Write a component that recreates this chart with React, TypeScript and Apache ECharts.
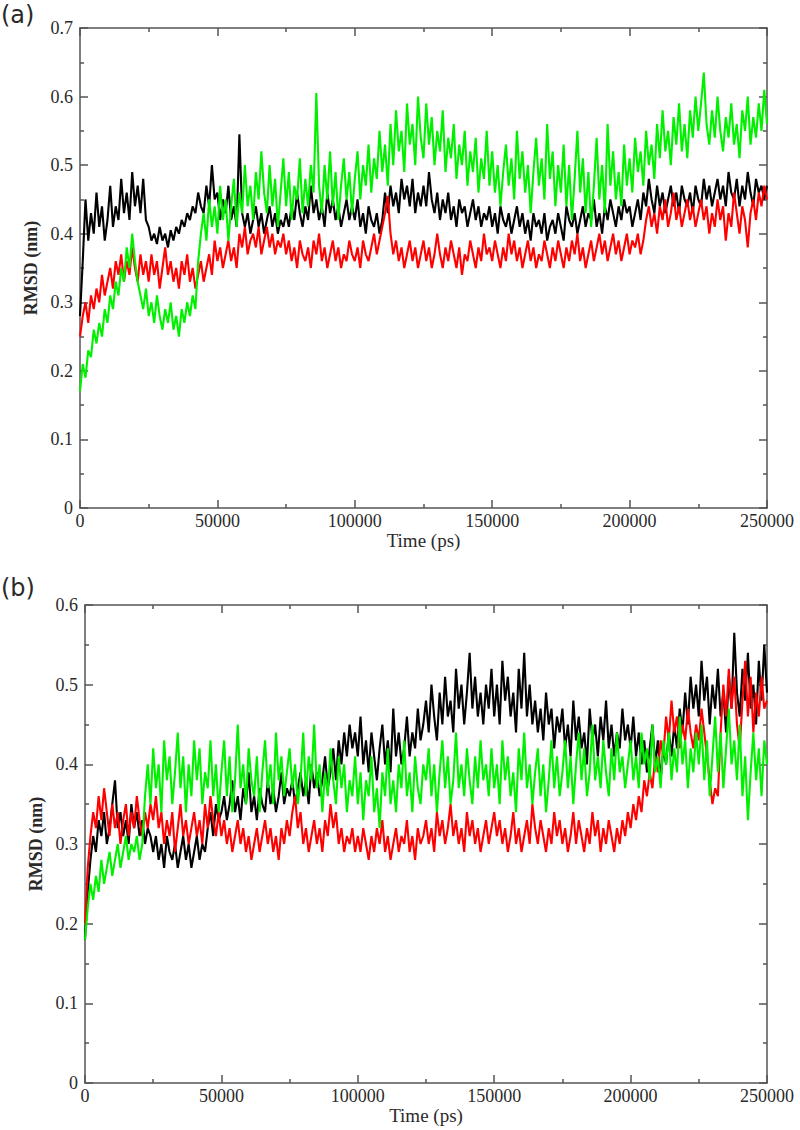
import React, { useEffect, useRef } from "react";
import * as echarts from "echarts";

// Sampling step of the trajectories (ps)
const STEP_PS = 1000;

// Panel (a) RMSD (nm), one value per 1000 ps
const aBlack = [
  0.28, 0.36, 0.45, 0.39, 0.43, 0.40, 0.46, 0.41, 0.44, 0.39, 0.42, 0.47, 0.41, 0.44, 0.42, 0.48, 0.43, 0.46, 0.42, 0.49, 0.44, 0.47, 0.43, 0.48, 0.42,
  0.41, 0.39, 0.40, 0.385, 0.41, 0.39, 0.40, 0.38, 0.405, 0.39, 0.41, 0.40, 0.42, 0.41, 0.43, 0.42, 0.44, 0.43, 0.46, 0.44, 0.43, 0.47, 0.44, 0.50, 0.45,
  0.46, 0.42, 0.45, 0.43, 0.47, 0.42, 0.44, 0.41, 0.545, 0.43, 0.41, 0.43, 0.40, 0.42, 0.44, 0.41, 0.43, 0.40, 0.42, 0.44, 0.41, 0.43, 0.40, 0.42, 0.41,
  0.43, 0.41, 0.44, 0.42, 0.46, 0.43, 0.41, 0.44, 0.42, 0.47, 0.43, 0.45, 0.42, 0.44, 0.41, 0.46, 0.43, 0.45, 0.42, 0.44, 0.41, 0.43, 0.45, 0.42, 0.44,
  0.42, 0.45, 0.41, 0.43, 0.40, 0.44, 0.42, 0.41, 0.43, 0.40, 0.42, 0.46, 0.43, 0.47, 0.44, 0.46, 0.43, 0.48, 0.45, 0.47, 0.44, 0.48, 0.43, 0.46, 0.44,
  0.47, 0.44, 0.49, 0.45, 0.43, 0.46, 0.42, 0.45, 0.43, 0.46, 0.42, 0.44, 0.41, 0.45, 0.43, 0.44, 0.41, 0.43, 0.45, 0.42, 0.44, 0.41, 0.43, 0.42, 0.44,
  0.41, 0.43, 0.40, 0.44, 0.42, 0.41, 0.43, 0.40, 0.42, 0.44, 0.41, 0.43, 0.40, 0.42, 0.39, 0.43, 0.41, 0.42, 0.40, 0.43, 0.39, 0.41, 0.42, 0.40, 0.43,
  0.41, 0.39, 0.44, 0.42, 0.41, 0.43, 0.40, 0.42, 0.44, 0.41, 0.43, 0.42, 0.45, 0.41, 0.43, 0.40, 0.44, 0.42, 0.45, 0.43, 0.41, 0.44, 0.42, 0.45, 0.43,
  0.44, 0.41, 0.43, 0.45, 0.42, 0.46, 0.44, 0.48, 0.45, 0.43, 0.47, 0.44, 0.46, 0.43, 0.45, 0.47, 0.44, 0.46, 0.43, 0.47, 0.45, 0.44, 0.46, 0.43, 0.47,
  0.45, 0.44, 0.48, 0.45, 0.47, 0.44, 0.46, 0.48, 0.45, 0.47, 0.44, 0.49, 0.46, 0.45, 0.48, 0.44, 0.47, 0.45, 0.49, 0.46, 0.44, 0.48, 0.46, 0.47, 0.45,
  0.47,
];
const aRed = [
  0.25, 0.28, 0.30, 0.27, 0.31, 0.29, 0.32, 0.30, 0.34, 0.31, 0.33, 0.35, 0.32, 0.36, 0.34, 0.37, 0.33, 0.36, 0.34, 0.38, 0.35, 0.33, 0.37, 0.34, 0.36,
  0.33, 0.37, 0.34, 0.36, 0.32, 0.35, 0.38, 0.34, 0.36, 0.33, 0.35, 0.32, 0.36, 0.34, 0.37, 0.33, 0.35, 0.32, 0.34, 0.36, 0.33, 0.35, 0.37, 0.34, 0.39,
  0.36, 0.38, 0.35, 0.37, 0.39, 0.36, 0.38, 0.35, 0.40, 0.38, 0.41, 0.37, 0.39, 0.40, 0.38, 0.41, 0.37, 0.39, 0.41, 0.38, 0.40, 0.37, 0.39, 0.38, 0.40,
  0.37, 0.39, 0.36, 0.38, 0.35, 0.39, 0.37, 0.36, 0.38, 0.35, 0.39, 0.37, 0.40, 0.36, 0.38, 0.35, 0.37, 0.39, 0.36, 0.38, 0.35, 0.37, 0.36, 0.39, 0.37,
  0.36, 0.38, 0.35, 0.39, 0.37, 0.36, 0.38, 0.40, 0.37, 0.39, 0.41, 0.43, 0.455, 0.40, 0.37, 0.39, 0.36, 0.38, 0.35, 0.37, 0.39, 0.36, 0.38, 0.35, 0.37,
  0.39, 0.36, 0.38, 0.35, 0.37, 0.40, 0.37, 0.35, 0.38, 0.36, 0.39, 0.37, 0.35, 0.38, 0.34, 0.37, 0.36, 0.39, 0.37, 0.35, 0.38, 0.36, 0.40, 0.37, 0.38,
  0.36, 0.39, 0.37, 0.35, 0.38, 0.36, 0.40, 0.37, 0.39, 0.36, 0.38, 0.35, 0.37, 0.39, 0.36, 0.38, 0.35, 0.37, 0.36, 0.39, 0.37, 0.35, 0.38, 0.36, 0.39,
  0.37, 0.35, 0.38, 0.36, 0.39, 0.37, 0.40, 0.36, 0.38, 0.35, 0.37, 0.39, 0.36, 0.38, 0.40, 0.37, 0.39, 0.36, 0.38, 0.40, 0.37, 0.39, 0.36, 0.38, 0.40,
  0.37, 0.39, 0.38, 0.40, 0.37, 0.39, 0.42, 0.44, 0.41, 0.43, 0.40, 0.44, 0.42, 0.45, 0.41, 0.43, 0.46, 0.42, 0.44, 0.41, 0.43, 0.45, 0.42, 0.44, 0.41,
  0.43, 0.45, 0.42, 0.44, 0.40, 0.43, 0.41, 0.45, 0.42, 0.44, 0.39, 0.43, 0.41, 0.46, 0.43, 0.40, 0.44, 0.42, 0.38, 0.43, 0.45, 0.42, 0.46, 0.44, 0.47,
  0.45,
];
const aGreen = [
  0.17, 0.21, 0.19, 0.23, 0.22, 0.26, 0.24, 0.27, 0.25, 0.29, 0.27, 0.31, 0.29, 0.33, 0.31, 0.35, 0.33, 0.38, 0.35, 0.40, 0.36, 0.33, 0.31, 0.29, 0.32,
  0.28, 0.30, 0.27, 0.31, 0.28, 0.26, 0.29, 0.27, 0.30, 0.26, 0.28, 0.25, 0.29, 0.27, 0.30, 0.28, 0.31, 0.29, 0.36, 0.40, 0.43, 0.39, 0.45, 0.41, 0.44,
  0.40, 0.47, 0.42, 0.45, 0.39, 0.44, 0.48, 0.41, 0.46, 0.43, 0.50, 0.44, 0.47, 0.42, 0.49, 0.45, 0.52, 0.46, 0.43, 0.50, 0.44, 0.48, 0.41, 0.46, 0.51,
  0.44, 0.49, 0.42, 0.47, 0.45, 0.51, 0.43, 0.48, 0.44, 0.50, 0.46, 0.605, 0.47, 0.43, 0.50, 0.45, 0.52, 0.44, 0.49, 0.42, 0.47, 0.51, 0.45, 0.49, 0.43,
  0.48, 0.52, 0.45, 0.50, 0.47, 0.53, 0.46, 0.51, 0.48, 0.55, 0.49, 0.53, 0.47, 0.56, 0.50, 0.58, 0.52, 0.55, 0.49, 0.59, 0.53, 0.56, 0.50, 0.60, 0.54,
  0.51, 0.59, 0.53, 0.57, 0.50, 0.55, 0.52, 0.58, 0.49, 0.54, 0.51, 0.56, 0.48, 0.53, 0.50, 0.55, 0.47, 0.52, 0.49, 0.54, 0.46, 0.51, 0.48, 0.55, 0.47,
  0.52, 0.46, 0.50, 0.44, 0.49, 0.53, 0.47, 0.51, 0.45, 0.55, 0.48, 0.52, 0.46, 0.50, 0.43, 0.49, 0.54, 0.47, 0.51, 0.45, 0.56, 0.48, 0.52, 0.44, 0.50,
  0.46, 0.53, 0.44, 0.50, 0.42, 0.48, 0.55, 0.46, 0.51, 0.43, 0.49, 0.41, 0.47, 0.54, 0.45, 0.50, 0.43, 0.56, 0.47, 0.52, 0.45, 0.49, 0.44, 0.53, 0.47,
  0.51, 0.46, 0.54, 0.49, 0.52, 0.47, 0.55, 0.50, 0.53, 0.48, 0.56, 0.51, 0.58, 0.52, 0.55, 0.50, 0.57, 0.53, 0.59, 0.52, 0.56, 0.51, 0.58, 0.54, 0.60,
  0.55, 0.59, 0.635, 0.56, 0.53, 0.58, 0.54, 0.60, 0.55, 0.52, 0.57, 0.54, 0.59, 0.53, 0.56, 0.51, 0.58, 0.55, 0.60, 0.53, 0.57, 0.54, 0.59, 0.55, 0.61,
  0.56,
];

// Panel (b) RMSD (nm), one value per 1000 ps
const bBlack = [
  0.18, 0.24, 0.28, 0.31, 0.29, 0.33, 0.31, 0.34, 0.30, 0.32, 0.35, 0.38, 0.32, 0.34, 0.31, 0.33, 0.30, 0.35, 0.32, 0.34, 0.31, 0.33, 0.30, 0.32, 0.31,
  0.29, 0.31, 0.28, 0.30, 0.27, 0.31, 0.29, 0.28, 0.30, 0.27, 0.29, 0.31, 0.28, 0.30, 0.27, 0.29, 0.31, 0.28, 0.30, 0.29, 0.32, 0.34, 0.31, 0.35, 0.33,
  0.34, 0.36, 0.33, 0.35, 0.38, 0.34, 0.36, 0.33, 0.37, 0.35, 0.39, 0.34, 0.36, 0.33, 0.37, 0.35, 0.34, 0.38, 0.35, 0.37, 0.34, 0.36, 0.39, 0.35, 0.37,
  0.36, 0.38, 0.35, 0.37, 0.39, 0.36, 0.38, 0.35, 0.40, 0.37, 0.39, 0.36, 0.38, 0.41, 0.37, 0.39, 0.42, 0.38, 0.43, 0.40, 0.44, 0.41, 0.45, 0.42, 0.44,
  0.41, 0.46, 0.40, 0.43, 0.39, 0.44, 0.41, 0.38, 0.42, 0.45, 0.40, 0.43, 0.39, 0.47, 0.41, 0.44, 0.40, 0.42, 0.46, 0.41, 0.44, 0.42, 0.47, 0.43, 0.45,
  0.48, 0.44, 0.50, 0.46, 0.43, 0.49, 0.45, 0.51, 0.46, 0.48, 0.44, 0.52, 0.47, 0.50, 0.45, 0.49, 0.54, 0.47, 0.51, 0.46, 0.49, 0.45, 0.50, 0.47, 0.52,
  0.46, 0.50, 0.45, 0.53, 0.48, 0.51, 0.46, 0.49, 0.44, 0.52, 0.47, 0.54, 0.46, 0.50, 0.45, 0.48, 0.44, 0.47, 0.43, 0.49, 0.45, 0.47, 0.42, 0.46, 0.44,
  0.47, 0.42, 0.45, 0.41, 0.48, 0.43, 0.46, 0.42, 0.44, 0.40, 0.47, 0.43, 0.45, 0.41, 0.46, 0.43, 0.48, 0.42, 0.45, 0.41, 0.44, 0.42, 0.47, 0.43, 0.45,
  0.42, 0.46, 0.41, 0.44, 0.40, 0.43, 0.39, 0.42, 0.45, 0.40, 0.43, 0.38, 0.42, 0.40, 0.44, 0.41, 0.45, 0.42, 0.47, 0.44, 0.49, 0.45, 0.51, 0.47, 0.50,
  0.46, 0.53, 0.48, 0.51, 0.45, 0.50, 0.47, 0.52, 0.46, 0.49, 0.44, 0.51, 0.47, 0.565, 0.49, 0.46, 0.52, 0.48, 0.54, 0.47, 0.50, 0.45, 0.53, 0.48, 0.55,
  0.49,
];
const bRed = [
  0.20, 0.27, 0.31, 0.34, 0.32, 0.36, 0.33, 0.37, 0.34, 0.31, 0.35, 0.32, 0.34, 0.30, 0.33, 0.35, 0.31, 0.34, 0.32, 0.36, 0.33, 0.31, 0.34, 0.32, 0.35,
  0.33, 0.36, 0.32, 0.34, 0.30, 0.33, 0.31, 0.34, 0.29, 0.32, 0.35, 0.31, 0.33, 0.30, 0.32, 0.34, 0.31, 0.33, 0.30, 0.35, 0.32, 0.36, 0.33, 0.31, 0.34,
  0.31, 0.33, 0.30, 0.32, 0.29, 0.31, 0.33, 0.30, 0.32, 0.29, 0.31, 0.28, 0.30, 0.32, 0.29, 0.31, 0.33, 0.30, 0.32, 0.29, 0.31, 0.28, 0.32, 0.30, 0.33,
  0.31, 0.34, 0.36, 0.32, 0.34, 0.30, 0.32, 0.29, 0.31, 0.33, 0.30, 0.32, 0.29, 0.33, 0.31, 0.35, 0.32, 0.34, 0.30, 0.32, 0.29, 0.31, 0.30, 0.32, 0.29,
  0.31, 0.29, 0.32, 0.30, 0.28, 0.31, 0.29, 0.32, 0.30, 0.33, 0.29, 0.31, 0.28, 0.30, 0.32, 0.29, 0.31, 0.30, 0.33, 0.29, 0.31, 0.28, 0.32, 0.30, 0.31,
  0.33, 0.30, 0.32, 0.29, 0.34, 0.31, 0.33, 0.30, 0.32, 0.35, 0.31, 0.33, 0.30, 0.32, 0.29, 0.34, 0.31, 0.33, 0.30, 0.32, 0.29, 0.31, 0.33, 0.30, 0.32,
  0.34, 0.31, 0.33, 0.30, 0.32, 0.29, 0.31, 0.34, 0.30, 0.32, 0.29, 0.31, 0.33, 0.30, 0.35, 0.32, 0.30, 0.33, 0.31, 0.29, 0.32, 0.30, 0.34, 0.31, 0.33,
  0.30, 0.32, 0.29, 0.31, 0.34, 0.30, 0.33, 0.31, 0.29, 0.32, 0.30, 0.34, 0.31, 0.33, 0.29, 0.32, 0.30, 0.33, 0.31, 0.29, 0.32, 0.30, 0.33, 0.31, 0.34,
  0.32, 0.35, 0.33, 0.36, 0.34, 0.38, 0.36, 0.39, 0.37, 0.41, 0.39, 0.43, 0.41, 0.46, 0.43, 0.48, 0.44, 0.46, 0.42, 0.45, 0.43, 0.47, 0.44, 0.42, 0.45,
  0.43, 0.47, 0.44, 0.41, 0.38, 0.35, 0.37, 0.36, 0.44, 0.50, 0.46, 0.52, 0.47, 0.51, 0.45, 0.42, 0.48, 0.53, 0.46, 0.51, 0.44, 0.49, 0.46, 0.51, 0.47,
  0.48,
];
const bGreen = [
  0.18, 0.22, 0.25, 0.23, 0.26, 0.24, 0.28, 0.25, 0.27, 0.29, 0.26, 0.28, 0.30, 0.27, 0.29, 0.31, 0.28, 0.30, 0.29, 0.31, 0.28, 0.30, 0.36, 0.40, 0.35,
  0.42, 0.37, 0.40, 0.34, 0.43, 0.38, 0.41, 0.35, 0.39, 0.44, 0.37, 0.41, 0.34, 0.40, 0.36, 0.43, 0.38, 0.42, 0.35, 0.39, 0.37, 0.43, 0.36, 0.40, 0.34,
  0.39, 0.43, 0.36, 0.41, 0.34, 0.38, 0.45, 0.37, 0.40, 0.35, 0.42, 0.38, 0.36, 0.41, 0.34, 0.39, 0.43, 0.37, 0.40, 0.35, 0.44, 0.38, 0.41, 0.36, 0.39,
  0.42, 0.37, 0.40, 0.35, 0.38, 0.44, 0.36, 0.41, 0.38, 0.45, 0.37, 0.40, 0.34, 0.39, 0.36, 0.42, 0.38, 0.35, 0.41, 0.37, 0.40, 0.34, 0.38, 0.36, 0.41,
  0.35, 0.39, 0.33, 0.38, 0.36, 0.41, 0.34, 0.37, 0.32, 0.39, 0.36, 0.42, 0.35, 0.38, 0.34, 0.40, 0.37, 0.43, 0.36, 0.39, 0.34, 0.41, 0.37, 0.35, 0.40,
  0.38, 0.42, 0.36, 0.40, 0.34, 0.39, 0.43, 0.37, 0.41, 0.35, 0.38, 0.44, 0.37, 0.40, 0.36, 0.42, 0.38, 0.35, 0.41, 0.37, 0.43, 0.38, 0.40, 0.36, 0.42,
  0.37, 0.40, 0.35, 0.43, 0.38, 0.41, 0.36, 0.39, 0.34, 0.42, 0.38, 0.44, 0.37, 0.40, 0.35, 0.39, 0.42, 0.36, 0.40, 0.34, 0.38, 0.43, 0.37, 0.41, 0.36,
  0.39, 0.43, 0.37, 0.41, 0.35, 0.40, 0.44, 0.38, 0.42, 0.36, 0.39, 0.45, 0.38, 0.41, 0.37, 0.43, 0.39, 0.36, 0.42, 0.38, 0.44, 0.39, 0.41, 0.37, 0.40,
  0.43, 0.38, 0.41, 0.37, 0.44, 0.40, 0.42, 0.38, 0.45, 0.39, 0.41, 0.37, 0.43, 0.40, 0.44, 0.38, 0.42, 0.39, 0.46, 0.40, 0.43, 0.37, 0.42, 0.39, 0.44,
  0.40, 0.45, 0.38, 0.43, 0.36, 0.41, 0.46, 0.39, 0.44, 0.37, 0.42, 0.47, 0.40, 0.43, 0.38, 0.45, 0.36, 0.41, 0.33, 0.39, 0.44, 0.38, 0.42, 0.36, 0.43,
  0.40,
];

const xTicks = [0, 50000, 100000, 150000, 200000, 250000];
const yMaxA = 0.7;
const yMaxB = 0.6;
const panelLabels = ["(a)", "(b)"];
const xTitle = "Time (ps)";
const yTitle = "RMSD (nm)";
const colors = ["#000000", "#ff0000", "#00f000"];

const toPairs = (arr: number[]) => arr.map((v, i) => [i * STEP_PS, v]);

const AXIS_COLOR = "#555555";
const TEXT_COLOR = "#2a2a2a";
const LABEL_FONT = "Liberation Serif";

function xAxisDef(grid: number, pos: "bottom" | "top") {
  const bottom = pos === "bottom";
  return {
    type: "value",
    gridIndex: grid,
    position: pos,
    min: xTicks[0],
    max: xTicks[xTicks.length - 1],
    interval: xTicks[1] - xTicks[0],
    axisLine: { show: true, onZero: false, lineStyle: { color: AXIS_COLOR, width: 1.5 } },
    axisTick: { show: true, inside: true, length: 8, lineStyle: { color: AXIS_COLOR, width: 1.5 } },
    minorTick: { show: true, splitNumber: 2, length: 4, lineStyle: { color: AXIS_COLOR, width: 1.5 } },
    splitLine: { show: false },
    axisLabel: {
      show: bottom,
      fontFamily: LABEL_FONT,
      fontSize: 18,
      color: TEXT_COLOR,
      margin: 4,
      formatter: (v: number) => String(v),
    },
    name: bottom ? xTitle : "",
    nameLocation: "middle",
    nameGap: 23,
    nameTextStyle: { fontFamily: LABEL_FONT, fontSize: 19, color: TEXT_COLOR },
  };
}

function yAxisDef(grid: number, pos: "left" | "right", max: number) {
  const left = pos === "left";
  return {
    type: "value",
    gridIndex: grid,
    position: pos,
    min: 0,
    max,
    interval: 0.1,
    axisLine: { show: true, onZero: false, lineStyle: { color: AXIS_COLOR, width: 1.5 } },
    axisTick: { show: true, inside: true, length: 8, lineStyle: { color: AXIS_COLOR, width: 1.5 } },
    minorTick: { show: true, splitNumber: 2, length: 4, lineStyle: { color: AXIS_COLOR, width: 1.5 } },
    splitLine: { show: false },
    axisLabel: {
      show: left,
      fontFamily: LABEL_FONT,
      fontSize: 18,
      color: TEXT_COLOR,
      margin: 7,
      formatter: (v: number) => (v === 0 ? "0" : v.toFixed(1)),
    },
    name: left ? yTitle : "",
    nameLocation: "middle",
    nameGap: 38,
    nameRotate: 90,
    nameTextStyle: { fontFamily: LABEL_FONT, fontSize: 18, fontWeight: "bold", color: TEXT_COLOR },
  };
}

export default function App() {
  const ref = useRef<HTMLDivElement>(null);
  useEffect(() => {
    if (!ref.current) return;
    const chart = echarts.init(ref.current, null, { renderer: "svg" });
    const sets = [
      [aBlack, aRed, aGreen],
      [bBlack, bRed, bGreen],
    ];
    const series: any[] = [];
    sets.forEach((grp, g) => {
      grp.forEach((arr, k) => {
        series.push({
          type: "line",
          xAxisIndex: g * 2,
          yAxisIndex: g * 2,
          data: toPairs(arr),
          showSymbol: false,
          symbol: "none",
          lineStyle: { color: colors[k], width: 2.1 },
          itemStyle: { color: colors[k] },
          z: 2 + k,
        });
      });
    });
    chart.setOption({
      animation: false,
      backgroundColor: "#ffffff",
      grid: [
        { left: 80, top: 28, width: 687, height: 480 },
        { left: 85, top: 605, width: 682, height: 478 },
      ],
      xAxis: [xAxisDef(0, "bottom"), xAxisDef(0, "top"), xAxisDef(1, "bottom"), xAxisDef(1, "top")],
      yAxis: [
        yAxisDef(0, "left", yMaxA),
        yAxisDef(0, "right", yMaxA),
        yAxisDef(1, "left", yMaxB),
        yAxisDef(1, "right", yMaxB),
      ],
      series,
      graphic: [
        {
          type: "text",
          left: 1,
          top: 3,
          style: { text: panelLabels[0], font: "24px 'DejaVu Sans'", fill: TEXT_COLOR },
        },
        {
          type: "text",
          left: 1,
          top: 576,
          style: { text: panelLabels[1], font: "24px 'DejaVu Sans'", fill: TEXT_COLOR },
        },
      ],
    });
    return () => chart.dispose();
  }, []);
  return (
    <div
      ref={ref}
      style={{ position: "absolute", left: 0, top: 0, width: 800, height: 1130, background: "#fff" }}
    />
  );
}
